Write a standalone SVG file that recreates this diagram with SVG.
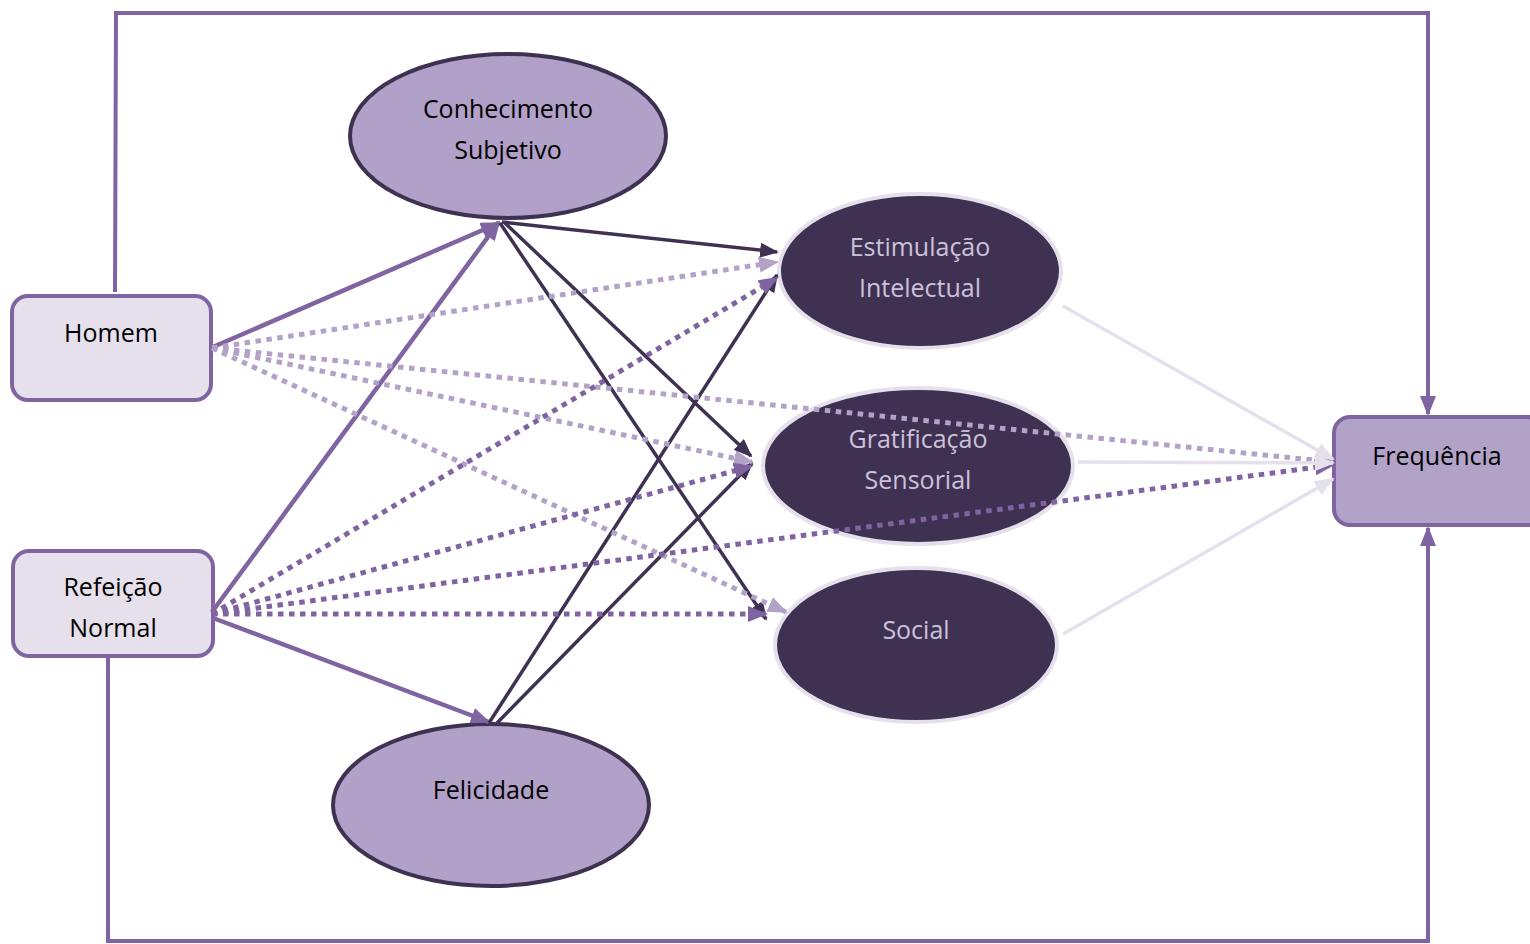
<svg xmlns="http://www.w3.org/2000/svg" width="1530" height="944" viewBox="0 0 1530 944">
  <style>
    .lbl { font-family: "Open Sans", "Noto Sans", "Liberation Sans", sans-serif; font-size: 25px; text-anchor: middle; }
    .dark-txt { fill: #000000; }
    .light-txt { fill: #CCC1DA; }
    .box { fill: #E6E0EC; stroke: #8064A2; stroke-width: 4; }
    .box-out { fill: #B3A2C7; stroke: #8064A2; stroke-width: 4; }
    .ell-mid { fill: #B1A0C7; stroke: #3F3151; stroke-width: 4; }
    .ell-dark { fill: #3F3151; stroke: #E6E0EC; stroke-width: 4; }
    .frame { fill: none; stroke: #8064A2; stroke-width: 4; }
    .solid-mid { fill: none; stroke: #8064A2; stroke-width: 4.5; }
    .solid-dark { fill: none; stroke: #3F3151; stroke-width: 3.5; }
    .solid-pale { fill: none; stroke: #E6E0EC; stroke-width: 3.5; }
    .dot-light { fill: none; stroke: #B3A2C7; stroke-width: 5; stroke-dasharray: 5.5 5.5; }
    .dot-mid { fill: none; stroke: #8064A2; stroke-width: 5; stroke-dasharray: 5.5 5.5; }
  </style>
  <defs>
    <marker id="arr-mid" viewBox="0 0 10 8" refX="9" refY="4" markerUnits="userSpaceOnUse" markerWidth="20" markerHeight="16" orient="auto">
      <path d="M0,0 L10,4 L0,8 z" fill="#8064A2"/>
    </marker>
    <marker id="arr-dark" viewBox="0 0 10 8" refX="9" refY="4" markerUnits="userSpaceOnUse" markerWidth="19" markerHeight="15" orient="auto">
      <path d="M0,0 L10,4 L0,8 z" fill="#3F3151"/>
    </marker>
    <marker id="arr-light" viewBox="0 0 10 8" refX="9" refY="4" markerUnits="userSpaceOnUse" markerWidth="20" markerHeight="16" orient="auto">
      <path d="M0,0 L10,4 L0,8 z" fill="#B3A2C7"/>
    </marker>
    <marker id="arr-pale" viewBox="0 0 10 8" refX="9" refY="4" markerUnits="userSpaceOnUse" markerWidth="20" markerHeight="16" orient="auto">
      <path d="M0,0 L10,4 L0,8 z" fill="#E6E0EC"/>
    </marker>
  </defs>

  <rect width="1530" height="944" fill="#FFFFFF"/>

  <!-- nodes -->
  <g id="homem">
    <rect class="box" x="12" y="296" width="199" height="104" rx="16"/>
    <text class="lbl dark-txt" x="111" y="342">Homem</text>
  </g>
  <g id="refeicao-normal">
    <rect class="box" x="13" y="551" width="200" height="105" rx="16"/>
    <text class="lbl dark-txt" x="113" y="596">Refeição</text>
    <text class="lbl dark-txt" x="113" y="637">Normal</text>
  </g>
  <g id="frequencia">
    <rect class="box-out" x="1334" y="417" width="210" height="108" rx="16"/>
    <text class="lbl dark-txt" x="1437" y="465">Frequência</text>
  </g>
  <g id="conhecimento-subjetivo">
    <ellipse class="ell-mid" cx="508" cy="136" rx="158" ry="82"/>
    <text class="lbl dark-txt" x="508" y="118">Conhecimento</text>
    <text class="lbl dark-txt" x="508" y="159">Subjetivo</text>
  </g>
  <g id="felicidade">
    <ellipse class="ell-mid" cx="491" cy="805" rx="158" ry="81"/>
    <text class="lbl dark-txt" x="491" y="799">Felicidade</text>
  </g>
  <g id="estimulacao-intelectual">
    <ellipse class="ell-dark" cx="920" cy="271" rx="141" ry="77"/>
    <text class="lbl light-txt" x="920" y="256">Estimulação</text>
    <text class="lbl light-txt" x="920" y="297">Intelectual</text>
  </g>
  <g id="gratificacao-sensorial">
    <ellipse class="ell-dark" cx="918" cy="466" rx="155" ry="78"/>
    <text class="lbl light-txt" x="918" y="448">Gratificação</text>
    <text class="lbl light-txt" x="918" y="489">Sensorial</text>
  </g>
  <g id="social">
    <ellipse class="ell-dark" cx="916" cy="645" rx="141" ry="77"/>
    <text class="lbl light-txt" x="916" y="639">Social</text>
  </g>

  <!-- connectors -->
  <g id="connectors">
    <!-- outer frame paths into Frequência -->
    <path class="frame" d="M115,292 L116,13 L1428,13 L1428,414" marker-end="url(#arr-mid)"/>
    <path class="frame" d="M108,656 L108,941 L1428,941 L1428,528" marker-end="url(#arr-mid)"/>

    <!-- predictors to mediators (solid) -->
    <line class="solid-mid" x1="213" y1="347" x2="499" y2="223" marker-end="url(#arr-mid)"/>
    <line class="solid-mid" x1="212" y1="612" x2="499" y2="222" marker-end="url(#arr-mid)"/>
    <line class="solid-mid" x1="213" y1="618" x2="489" y2="722" marker-end="url(#arr-mid)"/>

    <!-- Conhecimento Subjetivo to outcomes -->
    <line class="solid-dark" x1="502" y1="222" x2="777" y2="252" marker-end="url(#arr-dark)"/>
    <line class="solid-dark" x1="505" y1="223" x2="751" y2="456" marker-end="url(#arr-dark)"/>
    <line class="solid-dark" x1="500" y1="223" x2="766" y2="619" marker-end="url(#arr-dark)"/>

    <!-- Felicidade to outcomes -->
    <line class="solid-dark" x1="489" y1="723" x2="777" y2="275" marker-end="url(#arr-dark)"/>
    <line class="solid-dark" x1="497" y1="723" x2="752" y2="463" marker-end="url(#arr-dark)"/>

    <!-- Homem dotted paths -->
    <line class="dot-light" x1="212" y1="348" x2="777" y2="262" marker-end="url(#arr-light)"/>
    <line class="dot-light" x1="212" y1="348" x2="752" y2="462" marker-end="url(#arr-light)"/>
    <line class="dot-light" x1="212" y1="348" x2="786" y2="612" marker-end="url(#arr-light)"/>
    <line class="dot-light" x1="212" y1="348" x2="1333" y2="462" marker-end="url(#arr-light)"/>

    <!-- Refeição Normal dotted paths -->
    <line class="dot-mid" x1="212" y1="614" x2="777" y2="278" marker-end="url(#arr-mid)"/>
    <line class="dot-mid" x1="212" y1="614" x2="752" y2="466" marker-end="url(#arr-mid)"/>
    <line class="dot-mid" x1="212" y1="614" x2="766" y2="614" marker-end="url(#arr-mid)"/>
    <line class="dot-mid" x1="212" y1="614" x2="1333" y2="465" marker-end="url(#arr-mid)"/>

    <!-- outcomes to Frequência -->
    <line class="solid-pale" x1="1063" y1="306" x2="1333" y2="459" marker-end="url(#arr-pale)"/>
    <line class="solid-pale" x1="1078" y1="462" x2="1333" y2="463" marker-end="url(#arr-pale)"/>
    <line class="solid-pale" x1="1063" y1="634" x2="1333" y2="479" marker-end="url(#arr-pale)"/>
  </g>
</svg>
